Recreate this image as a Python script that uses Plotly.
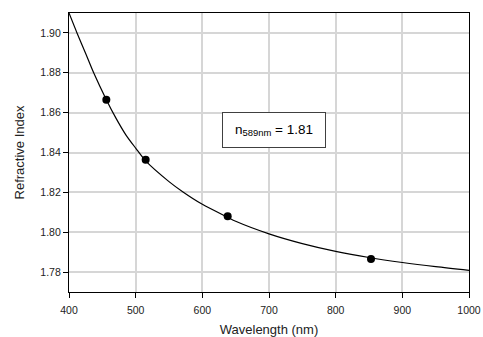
import plotly.graph_objects as go

# Measured data points
wl_pts = [456, 515, 638, 853]
n_pts = [1.8665, 1.8363, 1.8080, 1.7866]

# Fitted curve samples
wl_curve = [400, 412, 425, 437, 456, 470, 485, 500, 515, 550, 571, 600, 638, 650, 700, 750, 800, 850, 900, 950, 1000]
n_curve = [1.910, 1.900, 1.8897, 1.880, 1.8665, 1.8575, 1.849, 1.8422, 1.8358, 1.8254, 1.8202, 1.8140,
           1.8075, 1.8055, 1.7992, 1.7943, 1.7904, 1.7873, 1.7848, 1.7827, 1.7809]

x_ticks = [400, 500, 600, 700, 800, 900, 1000]
y_ticks = [1.78, 1.80, 1.82, 1.84, 1.86, 1.88, 1.90]

font = "Liberation Sans, Arial, sans-serif"

fig = go.Figure()
fig.add_trace(go.Scatter(x=wl_curve, y=n_curve, mode="lines",
                         line=dict(color="black", width=1.2, shape="spline", smoothing=0.8),
                         showlegend=False, hoverinfo="skip"))
fig.add_trace(go.Scatter(x=wl_pts, y=n_pts, mode="markers",
                         marker=dict(color="black", size=8),
                         showlegend=False))

fig.add_annotation(x=707, y=1.8513, xref="x", yref="y",
                   text="n<sub>589nm</sub> = 1.81", showarrow=False,
                   font=dict(family=font, size=13.5, color="black"),
                   bordercolor="#404040", borderwidth=1, borderpad=3,
                   width=96, height=28, bgcolor="white")

fig.update_layout(
    width=483, height=337,
    margin=dict(l=69, r=14, t=13, b=45),
    paper_bgcolor="white", plot_bgcolor="white",
    font=dict(family=font, size=10.5, color="#222222"),
)
fig.update_xaxes(range=[400, 1000], tickvals=x_ticks, ticktext=[str(v) for v in x_ticks],
                 showgrid=True, gridcolor="#d6d6d6", gridwidth=1.5, automargin=False,
                 showline=True, linecolor="black", linewidth=1.2, mirror=True,
                 ticks="outside", ticklen=5, tickcolor="black", zeroline=False,
                 ticklabelstandoff=3,
                 title=dict(text="Wavelength (nm)", font=dict(size=13, family=font), standoff=12))
fig.update_yaxes(range=[1.77, 1.91], tickvals=y_ticks, ticktext=[f"{v:.2f}" for v in y_ticks],
                 showgrid=True, gridcolor="#d6d6d6", gridwidth=1.5, automargin=False,
                 showline=True, linecolor="black", linewidth=1.2, mirror=True,
                 ticks="outside", ticklen=5, tickcolor="black", zeroline=False,
                 title=dict(text="Refractive Index", font=dict(size=13, family=font), standoff=12))

fig.write_html("out.html", config={"displayModeBar": False},
               post_script="document.body.style.margin='0';document.documentElement.style.overflow='hidden';document.body.style.overflow='hidden';")
